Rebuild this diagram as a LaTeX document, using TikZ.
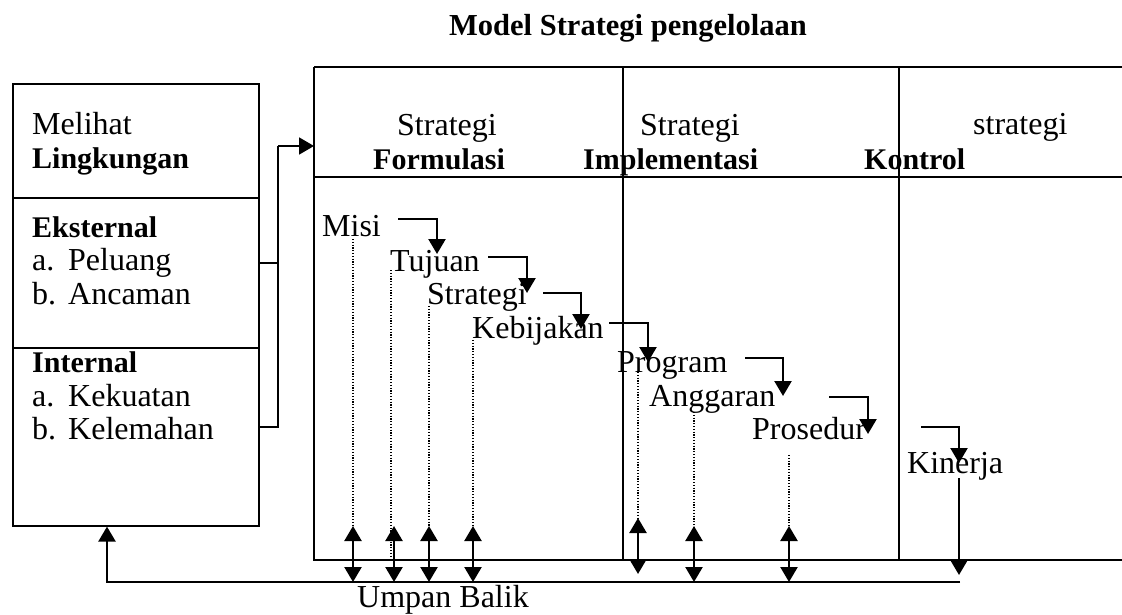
\documentclass[tikz,border=0pt]{standalone}
\usepackage{fontspec}
\setmainfont{Liberation Serif}
\usetikzlibrary{arrows.meta}
\tikzset{
  txt/.style={anchor=base west, inner sep=0pt, font=\fontsize{32}{36}\selectfont},
  btxt/.style={anchor=base west, inner sep=0pt, font=\fontsize{30}{36}\selectfont\bfseries},
  frame/.style={line width=1.6pt},
  arr/.style={line width=2.4pt, -{Triangle[width=17pt,length=15pt]}},
  darr/.style={line width=2.4pt, {Triangle[width=17pt,length=15pt]}-{Triangle[width=17pt,length=15pt]}},
  dots/.style={line width=1.3pt, dash pattern=on 1.2pt off 1.6pt},
  sect/.style={draw, frame, anchor=north west, minimum width=246pt, inner sep=0pt}
}
\begin{document}
\begin{tikzpicture}[x=1pt,y=-1pt]
\useasboundingbox (0,0) rectangle (1122,615);

% title
\node[btxt, font=\fontsize{30.5}{36}\selectfont\bfseries] (title) at (449,36) {Model Strategi pengelolaan};

% left box
\node[sect, minimum height=114pt] (lb1) at (12,83) {};
\node[sect, minimum height=150pt] (lb2) at (12,197) {};
\node[sect, minimum height=178pt] (lb3) at (12,347) {};
\node[txt] (melihat) at (32,135) {Melihat};
\node[btxt] (lingk) at (32,168) {Lingkungan};
\node[btxt] (eks) at (32,237) {Eksternal};
\node[txt] (pa) at (32,270) {a.};
\node[txt] (peluang) at (68,270) {Peluang};
\node[txt] (pb) at (32,304) {b.};
\node[txt] (ancaman) at (68,304) {Ancaman};
\node[btxt] (int) at (32,372) {Internal};
\node[txt] (ka) at (32,406) {a.};
\node[txt] (kekuatan) at (68,406) {Kekuatan};
\node[txt] (kb) at (32,439) {b.};
\node[txt] (kelemahan) at (68,439) {Kelemahan};

% right frame
\coordinate (rtl) at (314,67);
\coordinate (rbl) at (314,560);
\draw[line width=2.2pt] (rtl) -- (1122,67);
\draw[frame] (rtl) -- (rbl) -- (1122,560);
\draw[frame] (314,177) -- (1122,177);
\draw[frame] (623,67) -- (623,560);
\draw[frame] (899,67) -- (899,560);

% headers
\node[txt] (s1) at (397,136) {Strategi};
\node[btxt] (formulasi) at (373,170) {Formulasi};
\node[txt] (s2) at (640,136) {Strategi};
\node[btxt] (implementasi) at (583,170) {Implementasi};
\node[txt] (s3) at (973,135) {strategi};
\node[btxt] (kontrol) at (864,170) {Kontrol};

% bracket from left box to right frame
\coordinate (bx1) at (258,263);
\coordinate (bx2) at (258,427);
\coordinate (bj) at (278,146);
\coordinate (rin) at (314,146);
\draw[line width=1.8pt] (bx1) -- (bx1 -| bj);
\draw[line width=1.8pt] (bx2) -| (bj);
\draw[arr, line width=1.8pt] (bj) -- (rin);

% items
\node[txt] (misi) at (322,236) {Misi};
\node[txt] (tujuan) at (390,271) {Tujuan};
\node[txt] (strategi) at (427,304) {Strategi};
\node[txt] (kebijakan) at (472,338) {Kebijakan};
\node[txt] (program) at (617,372) {Program};
\node[txt] (anggaran) at (649,406) {Anggaran};
\node[txt] (prosedur) at (752,439) {Prosedur};
\node[txt] (kinerja) at (907,473) {Kinerja};
\node[txt] (umpan) at (357,607) {Umpan Balik};

% elbow arrows
\coordinate (e1s) at (398,219); \coordinate (e1t) at (437,254);
\coordinate (e2s) at (488,257); \coordinate (e2t) at (527,293);
\coordinate (e3s) at (543,293); \coordinate (e3t) at (581,329);
\coordinate (e4s) at (609,323); \coordinate (e4t) at (648,362);
\coordinate (e5s) at (745,358); \coordinate (e5t) at (783,396);
\coordinate (e6s) at (829,397); \coordinate (e6t) at (868,434);
\coordinate (e7s) at (921,427); \coordinate (e7t) at (959,463);
\foreach \i in {1,...,7}{\draw[arr] (e\i s) -| (e\i t);}

% dotted lines
\draw[dots] (353,239) -- (353,526);
\draw[dots] (391,270) -- (391,557);
\draw[dots] (429,306) -- (429,526);
\draw[dots] (473,340) -- (473,526);
\draw[dots] (638,372) -- (638,518);
\draw[dots] (694,412) -- (694,527);
\draw[dots] (789,455) -- (789,527);

% double arrows
\foreach \x in {353,394,429,473,694,789}{\draw[darr] (\x,526) -- (\x,582);}
\draw[darr] (638,518) -- (638,574);

% kinerja arrow
\coordinate (kin1) at (959,478);
\coordinate (kin2) at (959,575);
\draw[arr] (kin1) -- (kin2);

% feedback
\coordinate (fb1) at (960,582);
\coordinate (fb2) at (107,582);
\draw[arr] (fb1) -- (fb2) -- (lb3.south -| fb2);
\end{tikzpicture}
\end{document}
